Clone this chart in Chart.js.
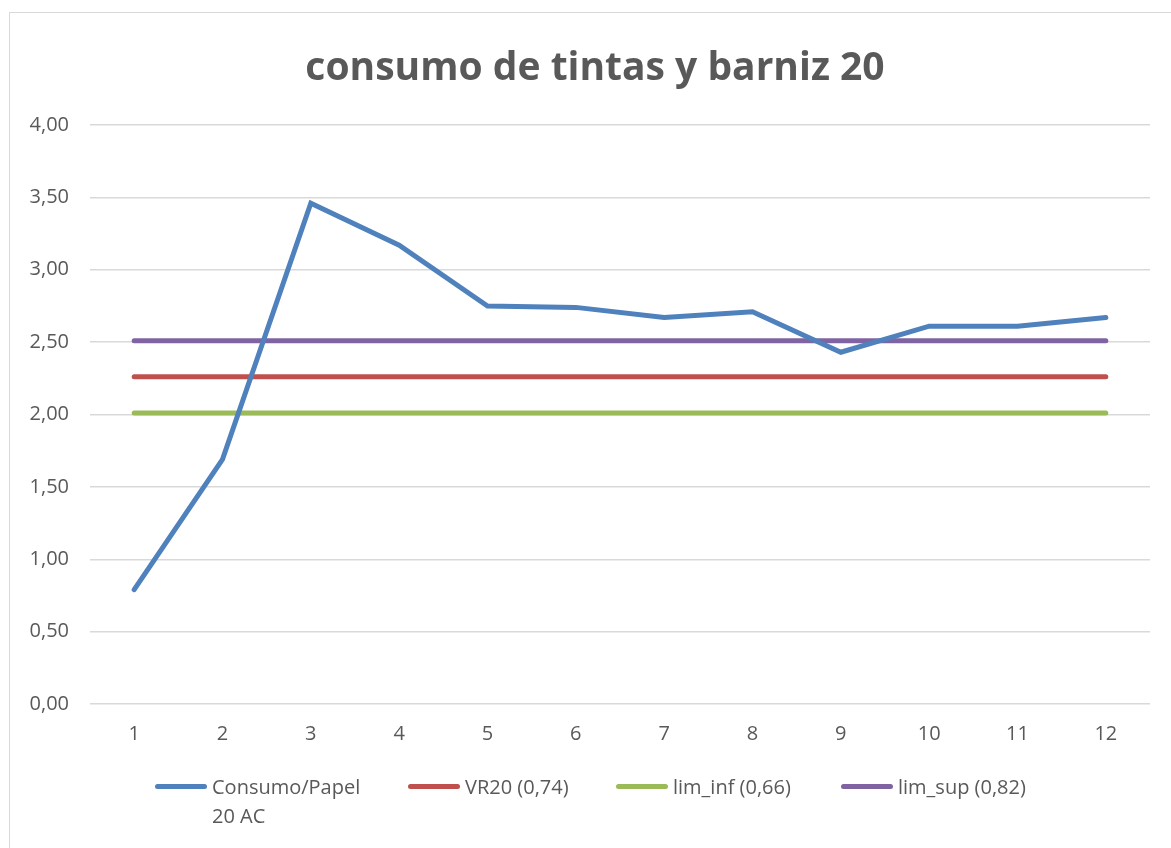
<!DOCTYPE html>
<html>
<head>
<meta charset="utf-8">
<script src="https://cdn.jsdelivr.net/npm/chart.js@4.4.1/dist/chart.umd.min.js"></script>
<style>
  body { margin: 0; background: #fff; }
  #wrap { position: relative; width: 1171px; height: 848px; overflow: hidden; }
  #frame { position: absolute; left: 9px; top: 12px; width: 1200px; height: 900px;
           border-left: 1px solid #d9d9d9; border-top: 1px solid #d9d9d9; }
  #myChart { position: absolute; left: 0; top: 0; }
  #title { position: absolute; left: 395px; width: 400px; top: 38px; text-align: center;
           white-space: nowrap; font-family: 'Open Sans', sans-serif; font-weight: bold;
           font-size: 39px; line-height: 53px; color: #595959; display: flex; justify-content: center; }
  #legend { position: absolute; top: 772px; left: 0; font-family: 'Open Sans', sans-serif;
            font-size: 20px; color: #595959; }
  .item { position: absolute; display: flex; align-items: flex-start; white-space: nowrap; }
  .swatch { width: 52px; height: 5px; border-radius: 3px; margin-top: 12px; margin-right: 5px; }
  .txt { line-height: 29px; }
</style>
</head>
<body>
<div id="wrap">
  <div id="frame"></div>
  <canvas id="myChart" width="1171" height="848"></canvas>
  <div id="title">consumo de tintas y barniz 20</div>
  <div id="legend"></div>
</div>
<script>
'use strict';

let labels = ['1','2','3','4','5','6','7','8','9','10','11','12'];
let consumo = [0.79, 1.69, 3.46, 3.17, 2.75, 2.74, 2.67, 2.71, 2.43, 2.61, 2.61, 2.67];
let vr20 = [2.26, 2.26, 2.26, 2.26, 2.26, 2.26, 2.26, 2.26, 2.26, 2.26, 2.26, 2.26];
let limInf = [2.01, 2.01, 2.01, 2.01, 2.01, 2.01, 2.01, 2.01, 2.01, 2.01, 2.01, 2.01];
let limSup = [2.51, 2.51, 2.51, 2.51, 2.51, 2.51, 2.51, 2.51, 2.51, 2.51, 2.51, 2.51];
let seriesNames = [['Consumo/Papel', '20 AC'], ['VR20 (0,74)'], ['lim_inf (0,66)'], ['lim_sup (0,82)']];
let colors = ['#4f81bd', '#c0504d', '#9bbb59', '#8064a2'];
let legendX = [155, 408, 616, 841];

let font = "'Open Sans', sans-serif";

function makeSet(i, data){
  return {
    label: seriesNames[i].join(' '),
    data: data,
    borderColor: colors[i],
    backgroundColor: colors[i],
    borderWidth: 5,
    borderCapStyle: 'round',
    borderJoinStyle: 'miter',
    pointRadius: 0,
    tension: 0,
    fill: false,
    order: i === 0 ? 0 : 4 - i   // blue on top
  };
}

let ctx = document.getElementById('myChart').getContext('2d');
let chart = new Chart(ctx, {
  type: 'line',
  data: {
    labels: labels,
    datasets: [makeSet(0, consumo), makeSet(1, vr20), makeSet(2, limInf), makeSet(3, limSup)]
  },
  options: {
    responsive: false,
    animation: false,
    layout: { padding: { left: 0, right: 21, top: 125, bottom: 84 } },
    plugins: {
      legend: { display: false },
      tooltip: { enabled: false },
      title: { display: false }
    },
    scales: {
      x: {
        offset: true,
        grid: { display: false, drawTicks: false },
        border: { display: false },
        ticks: { color: '#595959', font: { family: font, size: 20 }, padding: 18 }
      },
      y: {
        min: 0,
        max: 4,
        afterFit: function(scale){ scale.width = 90; },
        grid: { color: '#d9d9d9', lineWidth: 1.5, drawTicks: false },
        border: { display: false },
        ticks: {
          stepSize: 0.5,
          color: '#595959',
          padding: 21,
          font: { family: font, size: 20 },
          callback: function(v){ return v.toFixed(2).replace('.', ','); }
        }
      }
    }
  }
});

let legend = document.getElementById('legend');
for (let i = 0; i < seriesNames.length; i++){
  let item = document.createElement('div');
  item.className = 'item';
  item.style.left = legendX[i] + 'px';
  let sw = document.createElement('div');
  sw.className = 'swatch';
  sw.style.background = colors[i];
  let tx = document.createElement('div');
  tx.className = 'txt';
  tx.innerHTML = seriesNames[i].join('<br>');
  item.appendChild(sw);
  item.appendChild(tx);
  legend.appendChild(item);
}
</script>
</body>
</html>
